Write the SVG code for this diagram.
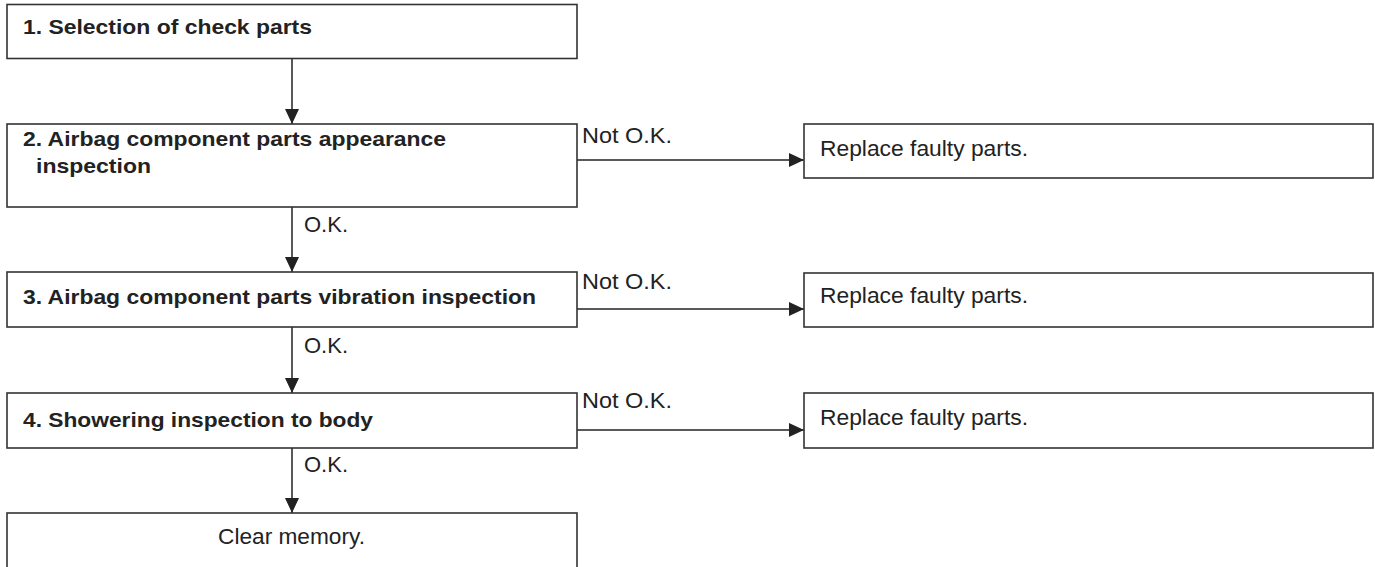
<svg xmlns="http://www.w3.org/2000/svg" width="1375" height="567" viewBox="0 0 1375 567">
<defs>
<marker id="arr" markerUnits="userSpaceOnUse" markerWidth="15" markerHeight="14" refX="15" refY="7" orient="auto">
<path d="M0,0 L15,7 L0,14 z" fill="#222"/>
</marker>
<style>
.box{fill:#fff;stroke:#333;stroke-width:1.6}
.b{font-family:"Liberation Sans",Arial,sans-serif;font-weight:bold;font-size:21px;fill:#222}
.r{font-family:"Liberation Sans",Arial,sans-serif;font-size:22px;fill:#222}
.c{fill:none;stroke:#222;stroke-width:1.5}
</style>
</defs>
<rect width="1375" height="567" fill="#fff"/>
<g id="connectors">
<line class="c" x1="292" y1="58.5" x2="292" y2="124" marker-end="url(#arr)"/>
<line class="c" x1="292" y1="207" x2="292" y2="272" marker-end="url(#arr)"/>
<line class="c" x1="292" y1="327" x2="292" y2="393" marker-end="url(#arr)"/>
<line class="c" x1="292" y1="448" x2="292" y2="513" marker-end="url(#arr)"/>
<line class="c" x1="577" y1="160" x2="804" y2="160" marker-end="url(#arr)"/>
<line class="c" x1="577" y1="309" x2="804" y2="309" marker-end="url(#arr)"/>
<line class="c" x1="577" y1="430" x2="804" y2="430" marker-end="url(#arr)"/>
<text class="r" x="582" y="143" textLength="90" lengthAdjust="spacingAndGlyphs">Not O.K.</text>
<text class="r" x="582" y="289" textLength="90" lengthAdjust="spacingAndGlyphs">Not O.K.</text>
<text class="r" x="582" y="408" textLength="90" lengthAdjust="spacingAndGlyphs">Not O.K.</text>
<text class="r" x="304" y="232" textLength="44" lengthAdjust="spacingAndGlyphs">O.K.</text>
<text class="r" x="304" y="353" textLength="44" lengthAdjust="spacingAndGlyphs">O.K.</text>
<text class="r" x="304" y="472" textLength="44" lengthAdjust="spacingAndGlyphs">O.K.</text>
</g>
<g id="step1">
<rect class="box" x="7" y="4.5" width="570" height="54"/>
<text class="b" x="23" y="34" textLength="289" lengthAdjust="spacingAndGlyphs">1. Selection of check parts</text>
</g>
<g id="step2">
<rect class="box" x="7" y="124" width="570" height="83"/>
<text class="b" x="23" y="146" textLength="423" lengthAdjust="spacingAndGlyphs">2. Airbag component parts appearance</text>
<text class="b" x="36" y="173" textLength="115" lengthAdjust="spacingAndGlyphs">inspection</text>
</g>
<g id="replace1">
<rect class="box" x="804" y="124" width="569" height="54"/>
<text class="r" x="820" y="156" textLength="208" lengthAdjust="spacingAndGlyphs">Replace faulty parts.</text>
</g>
<g id="step3">
<rect class="box" x="7" y="272" width="570" height="55"/>
<text class="b" x="23" y="304" textLength="513" lengthAdjust="spacingAndGlyphs">3. Airbag component parts vibration inspection</text>
</g>
<g id="replace2">
<rect class="box" x="804" y="273" width="569" height="54"/>
<text class="r" x="820" y="303" textLength="208" lengthAdjust="spacingAndGlyphs">Replace faulty parts.</text>
</g>
<g id="step4">
<rect class="box" x="7" y="393" width="570" height="55"/>
<text class="b" x="23" y="427" textLength="350" lengthAdjust="spacingAndGlyphs">4. Showering inspection to body</text>
</g>
<g id="replace3">
<rect class="box" x="804" y="393" width="569" height="55"/>
<text class="r" x="820" y="425" textLength="208" lengthAdjust="spacingAndGlyphs">Replace faulty parts.</text>
</g>
<g id="clear">
<rect class="box" x="7" y="513" width="570" height="70"/>
<text class="r" x="218" y="544" textLength="147" lengthAdjust="spacingAndGlyphs">Clear memory.</text>
</g>
</svg>
